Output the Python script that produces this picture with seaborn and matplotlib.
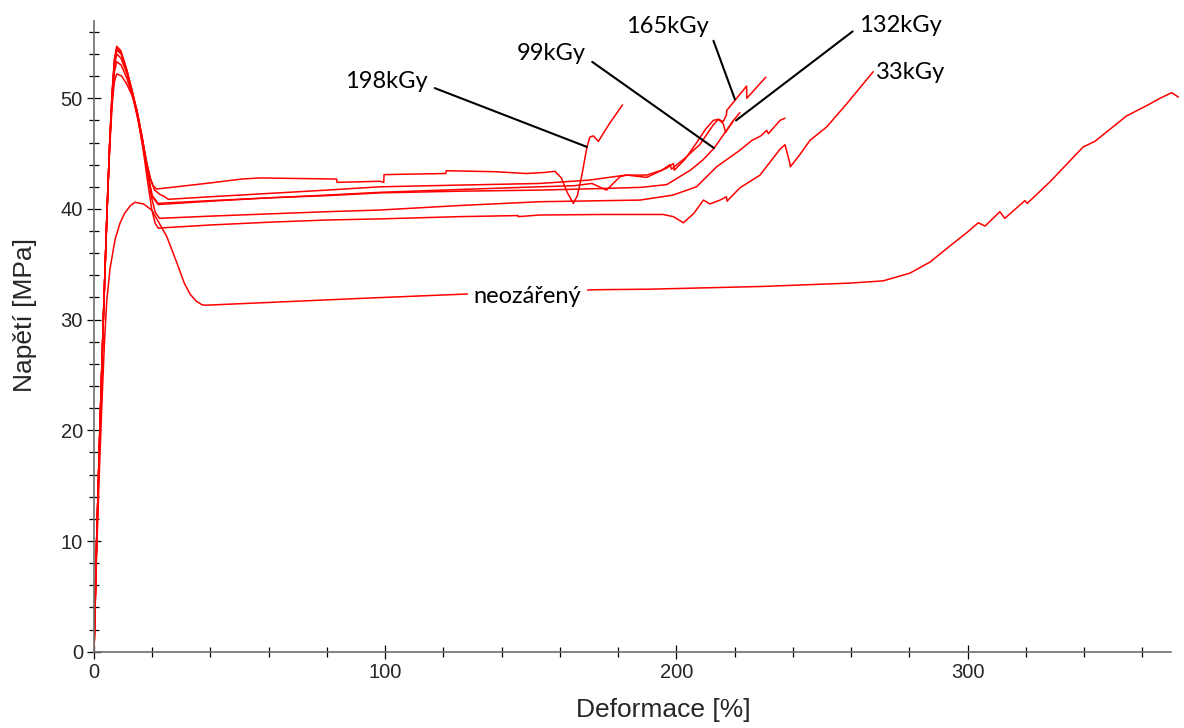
import matplotlib
matplotlib.use("Agg")
import matplotlib.pyplot as plt
import seaborn as sns
import pandas as pd

# ---------------- data (strain %, stress MPa) ----------------
x_198 = [0, 0.9, 2.0, 3.2, 4.5, 5.4, 6.2, 7.0, 7.8, 9.2, 11.0, 13.0, 14.8, 16.5, 18.0, 19.3, 20.3, 21.5,
         30, 40, 50.7, 57, 70, 83.3, 83.5, 98.2, 99.5, 99.6, 110, 120.8, 121.0, 138, 148.5, 155, 158.3,
         160.5, 162.5, 164.6, 166.0, 167.5, 169.3, 170.3, 171.5, 173.2, 177.0, 181.5]
y_198 = [0, 10, 20, 30, 40, 46, 50.5, 53.5, 54.7, 54.3, 52.8, 50.8, 48.8, 46.5, 44.3, 42.8, 42.1, 41.8,
         42.05, 42.35, 42.7, 42.8, 42.75, 42.7, 42.4, 42.5, 42.4, 43.1, 43.15, 43.2, 43.45, 43.36, 43.2, 43.3, 43.4,
         42.8, 41.5, 40.5, 41.2, 43.0, 45.6, 46.5, 46.6, 46.1, 47.7, 49.4]

x_165 = [0, 0.9, 2.0, 3.2, 4.5, 5.4, 6.2, 7.0, 7.8, 9.3, 11.2, 13.2, 15.0, 16.7, 18.2, 19.5, 20.8, 22.7, 24.0,
         25.5, 40, 60, 80, 98.2, 125, 153, 170, 182.4, 189.8, 195, 197.8, 198.3, 203, 208, 212.7, 214.4,
         216.1, 217.2, 217.3, 220.1, 224.1, 224.2, 230.7]
y_165 = [0, 10, 20, 30, 40, 46, 50.3, 53.2, 54.35, 54.0, 52.5, 50.5, 48.5, 46.2, 44.0, 42.6, 41.7, 41.3, 41.15,
         40.87, 41.1, 41.4, 41.7, 42.0, 42.15, 42.3, 42.6, 43.05, 43.06, 43.5, 44.0, 43.6, 44.6, 45.8, 47.6, 48.1,
         47.9, 48.5, 48.9, 49.8, 51.1, 50.0, 51.9]

x_132 = [0, 0.9, 2.0, 3.2, 4.5, 5.4, 6.2, 7.0, 7.8, 9.3, 11.3, 13.4, 15.3, 17.0, 18.5, 19.8, 22, 40, 60, 80,
         98.2, 125, 153, 165, 171, 176, 180.6, 182.9, 189.8, 196.7, 199, 199.3, 203, 207, 210, 212.7, 214.4,
         216.1, 216.9, 219, 221.8]
y_132 = [0, 10, 20, 30, 40, 46, 50, 52.9, 54.0, 53.6, 52.2, 50.2, 48.0, 45.6, 43.3, 41.2, 40.4, 40.7, 41.0, 41.25,
         41.5, 41.75, 42.0, 42.1, 42.3, 41.7, 42.9, 43.06, 42.85, 43.7, 44.1, 43.5, 44.5, 46.0, 47.2, 48.0, 48.1,
         47.7, 46.9, 47.8, 48.7]

x_99 = [0, 0.9, 2.0, 3.2, 4.5, 5.4, 6.2, 7.0, 7.8, 9.3, 11.3, 13.4, 15.3, 17.0, 18.6, 20.0, 22.0, 40, 60, 80,
        98.2, 125, 153, 175, 188, 196.7, 204.8, 209, 213, 217.2, 219.5]
y_99 = [0, 10, 20, 30, 40, 46, 49.8, 52.4, 53.3, 53.0, 51.8, 50.0, 47.8, 45.3, 43.0, 41.2, 40.5, 40.75, 41.0, 41.2,
        41.45, 41.6, 41.7, 41.85, 41.95, 42.2, 43.5, 44.4, 45.5, 47.1, 47.9]

x_66 = [0, 0.9, 2.0, 3.2, 4.5, 5.4, 6.2, 7.0, 7.8, 9.5, 11.2, 13.0, 14.7, 16.5, 18.3, 19.8, 21.0, 22.5, 40, 60,
        80, 98.2, 125, 153, 187.5, 198.8, 206.9, 213.8, 221.8, 226, 229, 231, 231.6, 235.6, 237.3]
y_66 = [0, 10, 20, 30, 40, 45.5, 49.3, 51.5, 52.2, 52.0, 51.3, 50.3, 49.0, 46.5, 43.5, 41.0, 39.7, 39.15, 39.35,
        39.55, 39.75, 39.9, 40.3, 40.65, 40.8, 41.25, 42.0, 43.8, 45.3, 46.2, 46.6, 47.1, 46.8, 48.0, 48.2]

x_33 = [0, 0.9, 2.0, 3.2, 4.5, 5.4, 6.2, 7.0, 7.8, 9.3, 11.2, 13.2, 15.0, 16.8, 18.4, 19.8, 21.0, 22.1, 24, 40,
        60, 80, 98.2, 125, 145.6, 145.7, 153, 175, 195.4, 199, 202.4, 206, 209.3, 211.5, 215, 217.2, 217.4,
        221.8, 228.7, 235.6, 237.3, 239.0, 239.1, 242.4, 245.9, 251.6, 258.5, 267.6]
y_33 = [0, 10, 20, 30, 40, 46, 50.4, 53.4, 54.5, 54.1, 52.6, 50.5, 48.3, 45.5, 42.5, 40.0, 38.7, 38.25, 38.3,
        38.55, 38.8, 39.0, 39.1, 39.3, 39.4, 39.3, 39.45, 39.5, 39.5, 39.3, 38.75, 39.6, 40.8, 40.45, 40.8, 41.1,
        40.7, 41.9, 43.05, 45.4, 45.8, 44.1, 43.8, 44.9, 46.2, 47.4, 49.5, 52.4]

x_neo = [0, 0.8, 1.8, 2.8, 3.6, 4.4, 5.5, 7.2, 8.9, 10.5, 12.5, 14.1, 17.0, 19.8, 22.0, 25.0, 28.5, 31.0,
         33.0, 35.0, 37.0, 38.2, 60, 90, 126.8, 172, 190.9, 230, 259.6, 271, 280.2, 287.1, 295.1, 299.7, 303.7,
         306, 311.1, 312.8, 319.7, 320.5, 328.3, 339.7, 343.7, 354.6, 362, 366.1, 370.1, 372.4]
y_neo = [0, 8, 16, 23, 28, 31.8, 34.6, 37.2, 38.7, 39.6, 40.3, 40.6, 40.45, 39.9, 38.9, 37.5, 35.1, 33.3,
         32.3, 31.7, 31.35, 31.3, 31.55, 31.9, 32.3, 32.7, 32.75, 33.0, 33.3, 33.5, 34.2, 35.2, 36.9, 37.85, 38.75,
         38.45, 39.75, 39.15, 40.75, 40.5, 42.45, 45.6, 46.1, 48.4, 49.4, 50.0, 50.5, 50.1]

curves = [("198kGy", x_198, y_198), ("165kGy", x_165, y_165), ("132kGy", x_132, y_132),
          ("99kGy", x_99, y_99), ("66kGy", x_66, y_66), ("33kGy", x_33, y_33),
          ("neozářený", x_neo, y_neo)]

x_label = "Deformace [%]"
y_label = "Napětí [MPa]"
x_major = [0, 100, 200, 300]
y_major = [0, 10, 20, 30, 40, 50]

# ---------------- figure ----------------
sns.set_style("ticks")
plt.rcParams["font.family"] = ["Liberation Sans", "DejaVu Sans"]

fig = plt.figure(figsize=(11.84, 7.28), dpi=100)
ax = fig.add_axes([0.0794, 0.1048, 0.9161, 0.8667])

for name, xs, ys in curves:
    df = pd.DataFrame({"x": xs, "y": ys})
    sns.lineplot(data=df, x="x", y="y", sort=False, estimator=None, color="#ff0000",
                 lw=1.1, ax=ax, zorder=2)

ax.set_xlim(0, 372.5)
ax.set_ylim(0, 57)
ax.spines["bottom"].set_bounds(0, 370)
for s in ["top", "right"]:
    ax.spines[s].set_visible(False)
for s in ["left", "bottom"]:
    ax.spines[s].set_color("#6e6e6e")
    ax.spines[s].set_linewidth(1.2)

ax.set_xticks(x_major)
ax.set_yticks(y_major)
ax.set_xticks([v for v in range(0, 371, 20) if v not in x_major], minor=True)
ax.set_yticks([v for v in range(0, 57, 2) if v not in y_major], minor=True)
ax.tick_params(which="major", direction="inout", length=10, width=0.9, color="black",
               labelsize=14.5, pad=3)
ax.tick_params(which="minor", direction="inout", length=7, width=0.9, color="black")

ax.set_xlabel(x_label, fontsize=19)
ax.set_ylabel(y_label, fontsize=19)
ax.xaxis.set_label_coords(0.5245, -0.073)
ax.yaxis.set_label_coords(-0.053, 0.534)

# annotations
afont = dict(family=["Lato", "DejaVu Sans"], fontsize=17, color="black")
lineprops = dict(arrowstyle="-", color="black", lw=1.5, shrinkA=3, shrinkB=0)
ax.annotate("198kGy", xy=(169.3, 45.6), xytext=(86.2, 50.9), ha="left", va="baseline",
            arrowprops=dict(lineprops, relpos=(1.0, 0.33)), **afont)
ax.annotate("99kGy", xy=(212.9, 45.5), xytext=(145.1, 53.45), ha="left", va="baseline",
            arrowprops=dict(lineprops, relpos=(1.0, 0.33)), **afont)
ax.annotate("165kGy", xy=(220.1, 49.9), xytext=(182.7, 55.86), ha="left", va="baseline",
            arrowprops=dict(lineprops, relpos=(1.0, 0.45)), **afont)
ax.annotate("132kGy", xy=(220.5, 48.0), xytext=(262.8, 56.0), ha="left", va="baseline",
            arrowprops=dict(lineprops, relpos=(0.0, 0.45)), **afont)
ax.text(268.5, 51.7, "33kGy", ha="left", va="baseline", **afont)
ax.text(130.3, 31.5, "neozářený", ha="left", va="baseline", zorder=5,
        bbox=dict(facecolor="white", edgecolor="none", pad=4), **afont)

fig.savefig("out.png", dpi=100)
